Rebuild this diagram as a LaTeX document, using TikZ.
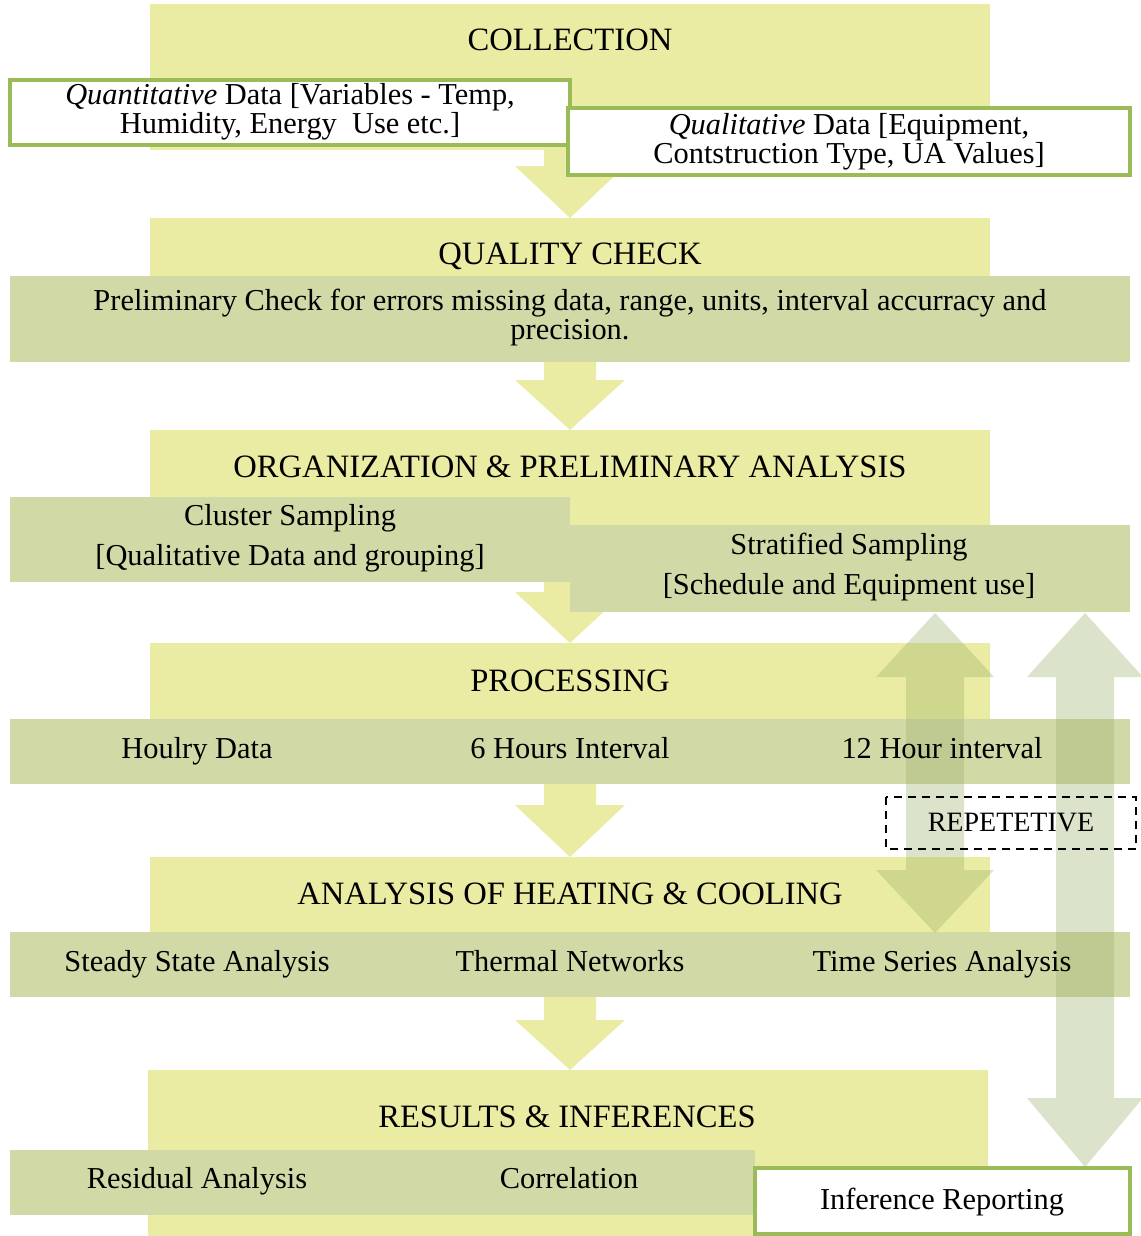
\documentclass[tikz,border=0pt]{standalone}
\usepackage{fontspec}
\setmainfont{Liberation Serif}

\definecolor{stageyellow}{RGB}{235,236,163}
\definecolor{bandgreen}{RGB}{209,218,167}
\definecolor{edgegreen}{RGB}{155,187,89}
\definecolor{loopgreen}{RGB}{155,175,105}

\begin{document}
\begin{tikzpicture}[x=0.5pt, y=-0.5pt,
        stagehead/.style={font=\fontsize{16.3}{19}\selectfont, text height=11pt, text depth=0pt},
        bodytext/.style={font=\fontsize{15.2}{14.5}\selectfont, align=center},
        bandtext/.style={font=\fontsize{15.2}{14.5}\selectfont, text height=10.5pt, text depth=3.5pt},
        whitebox/.style={draw=edgegreen, line width=2pt, fill=white},
        looparrow/.style={fill=loopgreen, fill opacity=0.35}]
        \useasboundingbox (0,0) rectangle (1140,1236);

        % stage blocks
        \fill[stageyellow] (150,4) rectangle (990,150);
        \fill[stageyellow] (150,218) rectangle (990,362);
        \fill[stageyellow] (150,430) rectangle (990,575);
        \fill[stageyellow] (150,643) rectangle (990,784);
        \fill[stageyellow] (150,857) rectangle (990,997);
        \fill[stageyellow] (148,1070) rectangle (988,1236);

        % down arrows between stages
        \foreach \a/\b/\c in {150/166/218, 362/380/430, 575/592/643, 784/805/857, 997/1020/1070}
            \fill[stageyellow] (544,\a) -- (596,\a) -- (596,\b) -- (625,\b) -- (570,\c)
                -- (515,\b) -- (544,\b) -- cycle;

        % bands
        \fill[bandgreen] (10,276) rectangle (1130,362);
        \fill[bandgreen] (10,497) rectangle (570,582);
        \fill[bandgreen] (570,525) rectangle (1130,612);
        \fill[bandgreen] (10,719) rectangle (1130,784);
        \fill[bandgreen] (10,932) rectangle (1130,997);
        \fill[bandgreen] (10,1150) rectangle (755,1215);

        \draw[whitebox] (10,80) rectangle (570,145);
        \draw[whitebox] (568,108) rectangle (1130,175);
        \draw[whitebox] (755,1168) rectangle (1130,1234);

        % repeat loop arrows
        \fill[looparrow] (935,613) -- (994,677) -- (964,677) -- (964,870) -- (994,870)
            -- (935,933) -- (876,870) -- (906,870) -- (906,677) -- (876,677) -- cycle;
        \fill[looparrow] (1085,613) -- (1143,677) -- (1114,677) -- (1114,1098) -- (1143,1098)
            -- (1085,1167) -- (1027,1098) -- (1056,1098) -- (1056,677) -- (1027,677) -- cycle;
        \draw[dashed, dash pattern=on 4pt off 3pt, line width=0.9pt] (886,797) rectangle (1136,849);

        \node[stagehead] (coll) at (570,40) {COLLECTION};
        \node[bodytext] (quant) at (290,112) {\textit{Quantitative} Data [Variables - Temp,\\ Humidity, Energy~ Use etc.]};
        \node[bodytext] (qual) at (849,142) {\textit{Qualitative} Data [Equipment,\\ Contstruction Type, UA Values]};

        \node[stagehead] (qc) at (570,253) {QUALITY CHECK};
        \node[bodytext] (prelim) at (570,318) {Preliminary Check for errors missing data, range, units, interval accurracy and\\ precision.};

        \node[stagehead] (org) at (570,466) {ORGANIZATION \& PRELIMINARY ANALYSIS};
        \node[bodytext] (cluster) at (290,538) {Cluster Sampling\\[5.5pt] [Qualitative Data and grouping]};
        \node[bodytext] (strat) at (849,567) {Stratified Sampling\\[5.5pt] [Schedule and Equipment use]};

        \node[stagehead] (proc) at (570,680) {PROCESSING};
        \node[bandtext] (hourly) at (197,751) {Houlry Data};
        \node[bandtext] (six) at (570,751) {6 Hours Interval};
        \node[bandtext] (twelve) at (942,751) {12 Hour interval};

        \node[font=\fontsize{14}{16}\selectfont] (rep) at (1011,823) {REPETETIVE};

        \node[stagehead] (heat) at (570,893) {ANALYSIS OF HEATING \& COOLING};
        \node[bandtext] (steady) at (197,964) {Steady State Analysis};
        \node[bandtext] (thermal) at (570,964) {Thermal Networks};
        \node[bandtext] (series) at (942,964) {Time Series Analysis};

        \node[stagehead] (res) at (567,1116) {RESULTS \& INFERENCES};
        \node[bandtext] (resid) at (197,1181) {Residual Analysis};
        \node[bandtext] (corr) at (569,1181) {Correlation};
        \node[bandtext] (infer) at (942,1202) {Inference Reporting};
    \end{tikzpicture}
\end{document}
